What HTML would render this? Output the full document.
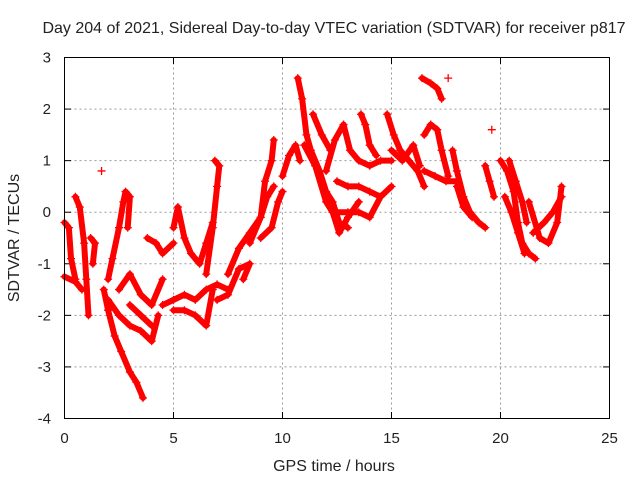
<!DOCTYPE html>
<html><head><meta charset="utf-8"><style>
body{margin:0;background:#fff;width:640px;height:480px;overflow:hidden}
text{font-family:"Liberation Sans",sans-serif;font-size:15px;fill:#222}
.big{font-size:16px}
</style></head><body>
<svg id="chart" width="640" height="480" xmlns="http://www.w3.org/2000/svg">
<text class="big" x="334" y="33" text-anchor="middle">Day 204 of 2021, Sidereal Day-to-day VTEC variation (SDTVAR) for receiver p817</text>
<text class="big" x="334" y="471" text-anchor="middle">GPS time / hours</text>
<text class="big" transform="translate(19,238) rotate(-90)" text-anchor="middle">SDTVAR / TECUs</text>
<g id="grid"></g><g id="marks"></g>
<rect x="64.5" y="57.5" width="545" height="361" fill="none" stroke="#000" stroke-width="1"/>
</svg>
<script>
const xTicks=[0,5,10,15,20,25];
const yTicks=[3,2,1,0,-1,-2,-3,-4];
const trackTimes=[
[0,0.2,0.3,0.5],[0,0.5,0.8],[0.5,0.7,0.9,1.0,1.1],[1.2,1.4,1.3],[1.7],
[1.8,2.0,2.3,2.6,3.0,3.3,3.6],[2.0,2.2,2.5,2.7,2.8,3.0,2.9],[2.0,2.5,3.0,3.5,4.0,4.3],
[2.5,3.0,3.5,4.0,4.5],[3.0,3.5,4.0],[3.8,4.2,4.5,5.0],[4.5,5,5.5,6,6.5,7,7.5],
[5.0,5.2,5.5,5.8,6.2,6.5,6.8],[5,5.5,6,6.5,6.8],[6.5,6.8,7.0,7.1,6.9],
[7,7.5,8,8.5,8.2],[7.5,8,8.5,9,9.3,9.6],[8.5,9.0,9.2,9.5,9.6],[9.0,9.5,9.8,10.0],
[10.0,10.3,10.6,10.8],[10.7,10.9,11.1,11.3,11.7,12,12.3,12.6,13.0],
[11,11.5,12,12.3,12.6,13,13.5],[11.4,11.8,12.2],[12.0,12.4,12.8,13.1,13.5,14,14.5,15],
[12.5,13,13.5,14,14.5],[13.6,13.8,14.0,14.3],[12.3,13,13.5,14,14.5,15],
[14.8,15.1,15.4,15.8,16.2,16.5],[15,15.5,16,16.3],[16.5,16.8,17.1,17.3,17.6],
[16.4,16.8,17.1,17.3],[17.6],[16.5,17,17.5,18],[17.8,18,18.3,18.6,19.0,19.3],
[18,18.3,18.7],[19.3,19.5,19.7],[19.6],[20.0,20.3,20.6,20.8,21,21.3,21.6],
[20.2,20.5,20.8,21.1],[20.4,20.7,21.0,21.2],[21.5,22,22.4,22.8],[21.3,21.8,22.2,22.6,22.8]
];
const trackValues=[
[-0.2,-0.3,-0.9,-1.3],[-1.25,-1.35,-1.5],[0.3,0.1,-0.6,-1.3,-2.0],[-0.5,-0.6,-1.0],[0.8],
[-1.5,-1.9,-2.4,-2.7,-3.1,-3.3,-3.6],[-1.3,-0.9,-0.3,0.2,0.4,0.3,-0.3],[-1.7,-2.0,-2.2,-2.3,-2.5,-2.0],
[-1.5,-1.2,-1.6,-1.8,-1.3],[-1.8,-2.0,-2.2],[-0.5,-0.6,-0.8,-0.6],[-1.8,-1.7,-1.6,-1.7,-1.5,-1.4,-1.5],
[-0.3,0.1,-0.5,-0.8,-1.0,-0.6,-0.2],[-1.9,-1.9,-2.0,-2.2,-1.5],[-1.2,-0.3,0.5,0.9,1.0],
[-1.7,-1.6,-1.1,-1.0,-1.3],[-1.2,-0.7,-0.4,-0.1,0.3,0.5],[-0.6,-0.1,0.6,1.0,1.4],[-0.5,-0.3,0.2,0.4],
[0.7,1.1,1.3,1.0],[2.6,2.2,1.5,1.2,0.8,0.4,0.2,-0.2,-0.3],
[1.3,0.9,0.2,0.0,-0.4,-0.1,0.2],[1.9,1.5,1.2],[0.8,1.4,1.7,1.2,1.0,0.9,1.0,1.0],
[0.6,0.5,0.5,0.4,0.3],[1.9,1.7,1.3,1.1],[0.0,0.0,0.0,-0.1,0.3,0.5],
[1.9,1.5,1.2,1.0,0.8,0.5],[1.2,1.0,1.3,0.9],[1.5,1.7,1.6,1.2,0.7],
[2.6,2.5,2.4,2.2],[2.6],[0.8,0.7,0.6,0.6],[1.2,0.8,0.3,0.0,-0.2,-0.3],
[0.5,0.1,-0.1],[0.9,0.6,0.3],[1.6],[1.0,0.8,0.4,-0.2,-0.6,-0.8,-0.9],
[0.3,0.0,-0.4,-0.8],[1.0,0.6,0.2,-0.2],[-0.4,-0.2,0.0,0.3],[0.2,-0.5,-0.6,-0.2,0.5]
];
const X=t=>64.5+t*21.8, Y=v=>57.5+(3-v)*51.57;
const NS='http://www.w3.org/2000/svg';
const grid=document.getElementById('grid'), marks=document.getElementById('marks'), svg=document.getElementById('chart');
function mk(tag,at,par){const e=document.createElementNS(NS,tag);for(const k in at)e.setAttribute(k,at[k]);par.appendChild(e);return e;}
xTicks.forEach(t=>{
  if(t>0&&t<25){const g=mk('line',{x1:X(t),x2:X(t),y1:57.5,y2:418.5,stroke:'#999','stroke-dasharray':'2,3'},grid);
  
  }
  mk('line',{x1:X(t),x2:X(t),y1:418.5,y2:412,stroke:'#000'},grid);
  mk('line',{x1:X(t),x2:X(t),y1:57.5,y2:64,stroke:'#000'},grid);
  const l=mk('text',{x:X(t),y:443,'text-anchor':'middle'},svg);l.textContent=t;
  
  
});
yTicks.forEach(v=>{
  if(v<3&&v>-4){const g=mk('line',{x1:64.5,x2:609.5,y1:Y(v),y2:Y(v),stroke:'#999','stroke-dasharray':'2,3'},grid);
  
  }
  mk('line',{x1:64.5,x2:71,y1:Y(v),y2:Y(v),stroke:'#000'},grid);
  mk('line',{x1:609.5,x2:603,y1:Y(v),y2:Y(v),stroke:'#000'},grid);
  const l=mk('text',{x:51,y:Y(v)+5,'text-anchor':'end'},svg);l.textContent=v;
  
  
});
trackTimes.forEach((ts,i)=>{
  const vs=trackValues[i];
  const pts=ts.map((t,j)=>X(t)+','+Y(vs[j])).join(' ');
  if(ts.length>1){const p=mk('polyline',{points:pts,fill:'none',stroke:'#f00','stroke-width':6,'stroke-linejoin':'round','stroke-linecap':'round'},marks);
  
  }
  ts.forEach((t,j)=>{const x=X(t),y=Y(vs[j]);
    const m=mk('path',{d:`M${x-4},${y}h8M${x},${y-4}v8`,stroke:'#f00','stroke-width':1.3},marks);
    
    
  });
});
</script>
</body></html>
